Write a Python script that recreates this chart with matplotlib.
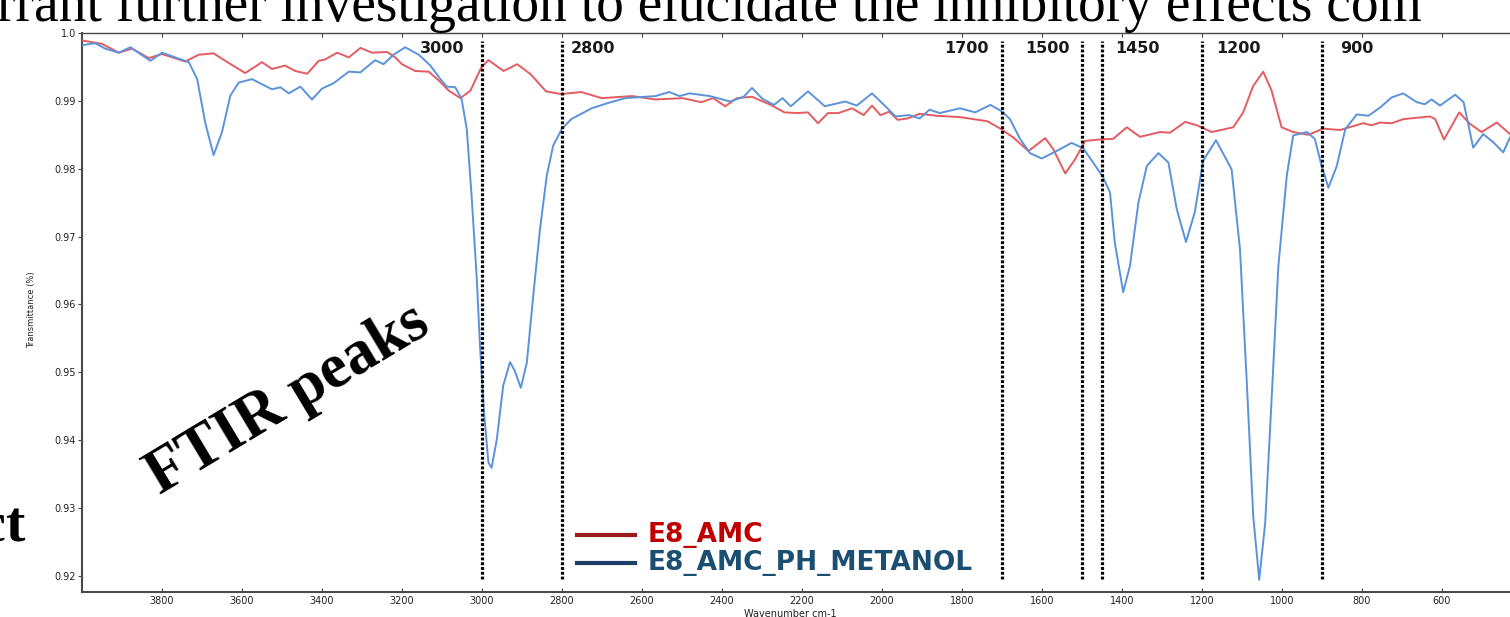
import matplotlib

matplotlib.use("Agg")
import matplotlib.pyplot as plt
from matplotlib.lines import Line2D

# ── data ───────────────────────────────────────────────────────────────────

wn_amc = [
    4000, 3950, 3908, 3875, 3833, 3800, 3742, 3708, 3671, 3642,
    3592, 3550, 3525, 3492, 3467, 3437, 3408, 3392, 3362, 3333,
    3304, 3275, 3237, 3217, 3200, 3167, 3133, 3108, 3083, 3054,
    3029, 3002, 2984, 2946, 2912, 2878, 2840, 2802, 2752, 2701,
    2625, 2566, 2498, 2452, 2422, 2392, 2363, 2325, 2278, 2244,
    2210, 2185, 2160, 2135, 2109, 2075, 2046, 2025, 2004, 1982,
    1961, 1936, 1906, 1864, 1805, 1737, 1704, 1672, 1634, 1592,
    1572, 1542, 1517, 1492, 1455, 1422, 1388, 1355, 1305, 1280,
    1242, 1213, 1176, 1122, 1097, 1072, 1047, 1026, 1001, 972,
    934, 897, 855, 797, 776, 755, 726, 697, 630, 617,
    595, 576, 557, 530, 501, 463, 430,
]
t_amc = [
    0.9989, 0.9984, 0.9971, 0.9977, 0.9963, 0.9969, 0.9958, 0.9968, 0.9970, 0.9959,
    0.9941, 0.9957, 0.9947, 0.9952, 0.9944, 0.9940, 0.9959, 0.9961, 0.9971, 0.9964,
    0.9978, 0.9971, 0.9972, 0.9964, 0.9954, 0.9944, 0.9943, 0.9930, 0.9915, 0.9904,
    0.9915, 0.9949, 0.9960, 0.9944, 0.9954, 0.9939, 0.9914, 0.9910, 0.9913, 0.9904,
    0.9907, 0.9902, 0.9904, 0.9898, 0.9904, 0.9892, 0.9904, 0.9906, 0.9894, 0.9883,
    0.9882, 0.9883, 0.9867, 0.9882, 0.9882, 0.9889, 0.9879, 0.9893, 0.9879, 0.9884,
    0.9872, 0.9874, 0.9881, 0.9878, 0.9876, 0.9870, 0.9859, 0.9846, 0.9826, 0.9845,
    0.9829, 0.9793, 0.9814, 0.9841, 0.9843, 0.9844, 0.9861, 0.9847, 0.9854, 0.9853,
    0.9869, 0.9864, 0.9854, 0.9861, 0.9883, 0.9922, 0.9943, 0.9915, 0.9861, 0.9854,
    0.9850, 0.9859, 0.9857, 0.9867, 0.9864, 0.9868, 0.9867, 0.9873, 0.9877, 0.9873,
    0.9843, 0.9863, 0.9883, 0.9866, 0.9854, 0.9868, 0.9851,
]

wn_metanol = [
    4000, 3967, 3942, 3908, 3879, 3854, 3829, 3800, 3767, 3733,
    3712, 3692, 3671, 3650, 3629, 3608, 3575, 3525, 3504, 3483,
    3454, 3425, 3400, 3371, 3333, 3304, 3267, 3246, 3221, 3192,
    3158, 3129, 3104, 3088, 3067, 3051, 3038, 3026, 3013, 3005,
    2995, 2984, 2976, 2963, 2947, 2930, 2918, 2903, 2888, 2872,
    2855, 2838, 2822, 2801, 2777, 2726, 2684, 2642, 2566, 2532,
    2506, 2481, 2430, 2380, 2346, 2325, 2299, 2270, 2249, 2228,
    2185, 2143, 2092, 2063, 2025, 1995, 1966, 1932, 1906, 1881,
    1856, 1805, 1767, 1729, 1699, 1680, 1655, 1630, 1601, 1567,
    1526, 1497, 1472, 1447, 1430, 1418, 1397, 1380, 1359, 1338,
    1309, 1284, 1263, 1240, 1218, 1197, 1165, 1126, 1105, 1088,
    1072, 1057, 1042, 1026, 1009, 988, 972, 938, 918, 901,
    884, 863, 842, 813, 784, 755, 726, 697, 663, 643,
    626, 605, 567, 546, 522, 497, 472, 447, 430,
]
t_metanol = [
    0.9982, 0.9985, 0.9977, 0.9971, 0.9979, 0.9969, 0.9959, 0.9971, 0.9964, 0.9957,
    0.9932, 0.9868, 0.9820, 0.9854, 0.9908, 0.9927, 0.9932, 0.9917, 0.9920, 0.9911,
    0.9921, 0.9902, 0.9918, 0.9926, 0.9943, 0.9942, 0.9960, 0.9954, 0.9968, 0.9979,
    0.9968, 0.9952, 0.9932, 0.9921, 0.9920, 0.9903, 0.9858, 0.9760, 0.9637, 0.9539,
    0.9441, 0.9367, 0.9359, 0.9401, 0.9480, 0.9515, 0.9502, 0.9477, 0.9514, 0.9612,
    0.9711, 0.9790, 0.9834, 0.9858, 0.9873, 0.9889, 0.9897, 0.9904, 0.9907, 0.9913,
    0.9907, 0.9911, 0.9907, 0.9899, 0.9906, 0.9919, 0.9903, 0.9894, 0.9904, 0.9892,
    0.9914, 0.9892, 0.9899, 0.9893, 0.9911, 0.9894, 0.9877, 0.9879, 0.9874, 0.9887,
    0.9882, 0.9889, 0.9883, 0.9894, 0.9884, 0.9873, 0.9844, 0.9823, 0.9815, 0.9825,
    0.9838, 0.9830, 0.9809, 0.9787, 0.9765, 0.9691, 0.9618, 0.9657, 0.9750, 0.9804,
    0.9823, 0.9809, 0.9740, 0.9692, 0.9736, 0.9812, 0.9842, 0.9799, 0.9681, 0.9485,
    0.9288, 0.9194, 0.9278, 0.9460, 0.9657, 0.9790, 0.9849, 0.9854, 0.9844, 0.9804,
    0.9772, 0.9804, 0.9858, 0.9880, 0.9878, 0.9890, 0.9905, 0.9911, 0.9898, 0.9895,
    0.9902, 0.9893, 0.9909, 0.9898, 0.9831, 0.9851, 0.9839, 0.9824, 0.9846,
]

peak_lines = [3000, 2800, 1700, 1500, 1450, 1200, 900]
peak_labels = ["3000", "2800", "1700", "1500", "1450", "1200", "900"]

x_ticks = [3800, 3600, 3400, 3200, 3000, 2800, 2600, 2400, 2200, 2000,
           1800, 1600, 1400, 1200, 1000, 800, 600]
y_ticks = [0.92, 0.93, 0.94, 0.95, 0.96, 0.97, 0.98, 0.99, 1.0]
y_tick_labels = ["0.92", "0.93", "0.94", "0.95", "0.96", "0.97", "0.98", "0.99", "1.0"]

series_names = ["E8_AMC", "E8_AMC_PH_METANOL"]

# ── figure ─────────────────────────────────────────────────────────────────

W, H = 1510, 617
fig = plt.figure(figsize=(W / 100, H / 100), dpi=100)
fig.patch.set_facecolor("white")

ax = fig.add_axes([82 / W, 1 - 592 / H, (W - 82) / W, (592 - 33) / H])
ax.plot(wn_amc, t_amc, color="#e45c61", lw=1.4, zorder=3)
ax.plot(wn_metanol, t_metanol, color="#5b93db", lw=1.4, zorder=4)
ax.set_xlim(4000, 430)
ax.set_ylim(0.9176, 1.0)

# dotted peak markers + their labels
ax.vlines(peak_lines, 0.9195, 0.9988, colors="black", lw=2.3,
          linestyles=[(0, (0.9, 0.6))], zorder=5)
label_pos = [3099, 2722, 1790, 1587, 1362, 1110, 812]
for pos, lab in zip(label_pos, peak_labels):
    ax.text(pos, 0.9977, lab, ha="center", va="center", fontsize=11.5,
            fontweight="bold", color="#1a1a1a", zorder=6)

ax.set_xticks(x_ticks)
ax.set_yticks(y_ticks)
ax.set_yticklabels(y_tick_labels)
ax.tick_params(axis="x", direction="in", length=3, labelsize=7, pad=3,
               top=True, colors="#444", labelcolor="#222")
ax.tick_params(axis="y", direction="out", length=3, labelsize=7, pad=1.5,
               colors="#444", labelcolor="#222")
for side in ("left", "bottom"):
    ax.spines[side].set_color("#4a4a4a")
    ax.spines[side].set_linewidth(1.5)
ax.spines["top"].set_color("#4a4a4a")
ax.spines["top"].set_linewidth(1.0)
ax.spines["right"].set_visible(False)

fig.text(32 / W, 1 - 310 / H, "Transmittance (%)", rotation=90, fontsize=6,
         ha="center", va="center", color="#222")
fig.text(790 / W, 1 - 614 / H, "Wavenumber cm-1", fontsize=7,
         ha="center", va="center", color="#222")

# legend drawn by hand: dark handles, coloured bold labels
legend_y = [535, 563]
handle_colors = ["#9b1c1c", "#1f3f66"]
text_colors = ["#c00000", "#1b4f72"]
for yy, name, hc, tc in zip(legend_y, series_names, handle_colors, text_colors):
    fig.add_artist(Line2D([577 / W, 635 / W], [1 - yy / H, 1 - yy / H],
                          color=hc, lw=3, transform=fig.transFigure))
    fig.text(648 / W, 1 - yy / H, name, fontsize=19, fontweight="bold",
             color=tc, ha="left", va="center")

# slide text around the chart
fig.text(-3 / W, 1 - 21 / H,
         "rrant further investigation to elucidate the inhibitory effects com",
         family="Liberation Serif", fontsize=40, ha="left", va="baseline")
fig.text(288 / W, 1 - 400 / H, "FTIR peaks", family="Liberation Serif",
         fontsize=45, fontweight="bold", rotation=31, rotation_mode="anchor",
         ha="center", va="center", zorder=10)
fig.text(25 / W, 1 - 541 / H, "ct", family="Liberation Serif", fontsize=42,
         fontweight="bold", ha="right", va="baseline")

fig.savefig("out.png", dpi=100)
